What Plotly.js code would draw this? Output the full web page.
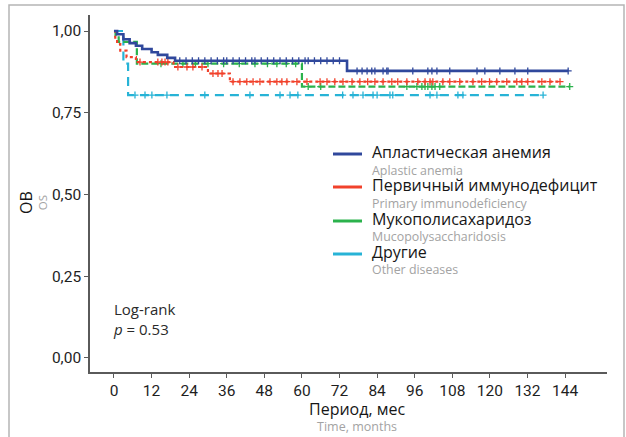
<!DOCTYPE html>
<html>
<head>
<meta charset="utf-8">
<script src="https://cdn.plot.ly/plotly-3.0.1.min.js"></script>
<style>
  html, body { margin: 0; padding: 0; background: #fff; }
  #chart { width: 626px; height: 437px; }
</style>
</head>
<body>
<div id="chart"></div>
<script>
// Kaplan–Meier overall survival by diagnosis group

const groupNamesRu = ['Апластическая анемия', 'Первичный иммунодефицит', 'Мукополисахаридоз', 'Другие'];
const groupNamesEn = ['Aplastic anemia', 'Primary immunodeficiency', 'Mucopolysaccharidosis', 'Other diseases'];

// step curves: event times (months) and survival after each step
const aplasticTimes = [0, 1, 3, 5, 7, 9, 12, 14, 17, 19.5, 74.4, 145];
const aplasticSurv  = [1, 0.99, 0.975, 0.963, 0.955, 0.945, 0.935, 0.927, 0.918, 0.909, 0.878, 0.878];
const aplasticCensor = [21, 23, 25, 27, 29, 31, 33, 35, 36, 38, 40, 42, 44, 45, 47, 49, 51, 53, 55, 57, 59, 61, 62, 64, 66, 68, 70, 72,
  77.6, 79.2, 80.8, 82.3, 83.3, 85.9, 87.1, 87.5, 95.4, 100.2, 101.5, 103.1, 107.2, 115.9, 118.4, 123.2, 128, 132.1, 145];

const immunoTimes = [0, 0.4, 1, 2, 4, 7, 19, 30, 37, 142.4];
const immunoSurv  = [1, 0.975, 0.96, 0.94, 0.92, 0.905, 0.89, 0.87, 0.845, 0.845];
const immunoCensor = [8.3, 14, 15.3, 16.3, 17.2, 20.4, 23.3, 25.2, 28.1, 31.6, 33.2, 34.5,
  38, 40.2, 42.4, 44.4, 46.6, 49.8, 52, 53.6, 55.2, 58.4, 61.6, 65.8, 68, 70.5, 73.1, 76, 78.5, 81, 83.3, 85.9, 88.7,
  90.6, 93.5, 97, 99.3, 100.9, 101.8, 105, 107.2, 110.4, 114.6, 117.4, 119.9, 122.2, 125.4, 128.6, 130.2, 132.1,
  136.6, 139.2, 142.4];

const mpsTimes = [0, 0.5, 1.5, 7.3, 60, 145.5];
const mpsSurv  = [1, 0.985, 0.967, 0.90, 0.83, 0.83];
const mpsCensor = [15, 22, 26, 30, 35, 40, 45, 49, 52, 55, 58, 62, 66, 93.5, 96.7, 98.3, 99.3, 100.2, 101.5, 102.5, 104, 145.5];

const otherTimes = [0, 3, 4.5, 137];
const otherSurv  = [1, 0.9, 0.804, 0.804];
const otherCensor = [6.7, 9.9, 12.1, 16.9, 29, 43.4, 53, 56.2, 58.7, 73, 76.3, 79.5, 82.7, 84, 88.1, 89,
  100.9, 103.1, 109.8, 111.4, 137];

const xTickVals = [0, 12, 24, 36, 48, 60, 72, 84, 96, 108, 120, 132, 144];
const yTickVals = [0, 0.25, 0.5, 0.75, 1];
const yTickText = ['0,00', '0,25', '0,50', '0,75', '1,00'];

const colors = ['#30489c', '#f1412b', '#2bb24c', '#27b3d6'];
const dashes = ['solid', '3px,3px', '7px,3px', '9px,6px'];

const FONT = '"Open Sans", Roboto, sans-serif';
const TICK_FONT = 'Roboto, "Open Sans", sans-serif';
const SUB_COLOR = '#a3a3a3';
const MAIN_COLOR = '#161616';
const AXIS_COLOR = '#5a5a5a';

// survival value of a step curve at time t
function survAt(times, surv, t) {
  let v = surv[0];
  for (let i = 0; i < times.length; i++) {
    if (times[i] <= t) v = surv[i];
  }
  return v;
}

// larger dark main line
function mainLine(text, size) {
  return '<span style="font-size:' + size + 'px;color:' + MAIN_COLOR + '">' + text + '</span>';
}
// smaller grey line
function subLine(text, size) {
  return '<span style="font-size:' + size + 'px">' + text + '</span>';
}

const groups = [
  [aplasticTimes, aplasticSurv, aplasticCensor],
  [immunoTimes, immunoSurv, immunoCensor],
  [mpsTimes, mpsSurv, mpsCensor],
  [otherTimes, otherSurv, otherCensor]
];

const traces = [];
// draw from last to first so the solid blue curve sits on top
for (let g = groups.length - 1; g >= 0; g--) {
  const [t, s, c] = groups[g];
  traces.push({
    x: t, y: s, type: 'scatter', mode: 'lines',
    line: { shape: 'hv', color: colors[g], width: g === 0 ? 2.6 : 2.2, dash: dashes[g] },
    showlegend: false, hoverinfo: 'skip'
  });
  traces.push({
    x: c, y: c.map(v => survAt(t, s, v)), type: 'scatter', mode: 'markers',
    marker: { symbol: 'cross-thin', size: 5, line: { color: colors[g], width: 1.3 } },
    showlegend: false, hoverinfo: 'skip'
  });
}

// plot-area geometry in pixels, used to place legend and titles in paper units
const PLOT = { left: 90, right: 607, top: 15, bottom: 372 };
const px2x = px => (px - PLOT.left) / (PLOT.right - PLOT.left);
const px2y = py => (PLOT.bottom - py) / (PLOT.bottom - PLOT.top);

// legend text: each group's Russian name with its English name underneath
const legendText = groupNamesRu
  .map((ru, g) => mainLine(ru, 16) + '<br>' + subLine(groupNamesEn[g], 12.4))
  .join('<br>');

const annotations = [
  { text: mainLine('ОВ', 16) + '<br>OS', xref: 'paper', yref: 'paper', x: px2x(32), y: px2y(203), textangle: -90,
    showarrow: false, xanchor: 'center', yanchor: 'middle', align: 'center',
    font: { family: FONT, size: 11.5, color: SUB_COLOR } },
  { text: mainLine('Период, мес', 16) + '<br>Time, months', xref: 'paper', yref: 'paper', x: px2x(357), y: px2y(416),
    showarrow: false, xanchor: 'center', yanchor: 'middle', align: 'center',
    font: { family: FONT, size: 12.5, color: SUB_COLOR } },
  { text: 'Log-rank<br><i>p</i> = 0.53', xref: 'paper', yref: 'paper', x: px2x(111), y: px2y(319),
    showarrow: false, xanchor: 'left', yanchor: 'middle', align: 'left',
    font: { family: FONT, size: 15, color: '#2a2a2a' } },
  { text: legendText, xref: 'paper', yref: 'paper', x: px2x(370), y: px2y(209.5),
    showarrow: false, xanchor: 'left', yanchor: 'middle', align: 'left',
    font: { family: FONT, size: 12.8, color: SUB_COLOR } }
];

const shapes = [
  // thin frame round the figure
  { type: 'rect', xref: 'paper', yref: 'paper', x0: px2x(9), x1: px2x(624), y0: px2y(445), y1: px2y(5),
    line: { color: '#b5b5b5', width: 1.5 }, fillcolor: 'rgba(0,0,0,0)', layer: 'below' }
];

// legend key lines
const legendRowY = [154, 187, 221, 254];
for (let g = 0; g < groupNamesRu.length; g++) {
  const y = legendRowY[g];
  shapes.push({ type: 'line', xref: 'paper', yref: 'paper', x0: px2x(333), x1: px2x(362), y0: px2y(y), y1: px2y(y),
    line: { color: colors[g], width: 3 } });
}

const layout = {
  width: 626, height: 437,
  margin: { l: 90, r: 19, t: 15, b: 65 },
  paper_bgcolor: '#fff', plot_bgcolor: '#fff',
  font: { family: FONT, color: '#222' },
  showlegend: false,
  xaxis: {
    range: [-7.66, 157.4], tickvals: xTickVals,
    ticks: 'outside', ticklen: 4, tickcolor: AXIS_COLOR, tickwidth: 1,
    showline: true, linecolor: AXIS_COLOR, linewidth: 1.8,
    showgrid: false, zeroline: false,
    tickfont: { family: TICK_FONT, size: 15.5, color: '#1e1e1e' }
  },
  yaxis: {
    range: [-0.043, 1.049], tickvals: yTickVals, ticktext: yTickText,
    ticks: 'outside', ticklen: 4, tickcolor: AXIS_COLOR, tickwidth: 1,
    showline: true, linecolor: AXIS_COLOR, linewidth: 1.8,
    showgrid: false, zeroline: false,
    tickfont: { family: TICK_FONT, size: 15.5, color: '#1e1e1e' }
  },
  annotations: annotations,
  shapes: shapes
};

Plotly.newPlot('chart', traces, layout, { staticPlot: true, displayModeBar: false });
</script>
</body>
</html>
